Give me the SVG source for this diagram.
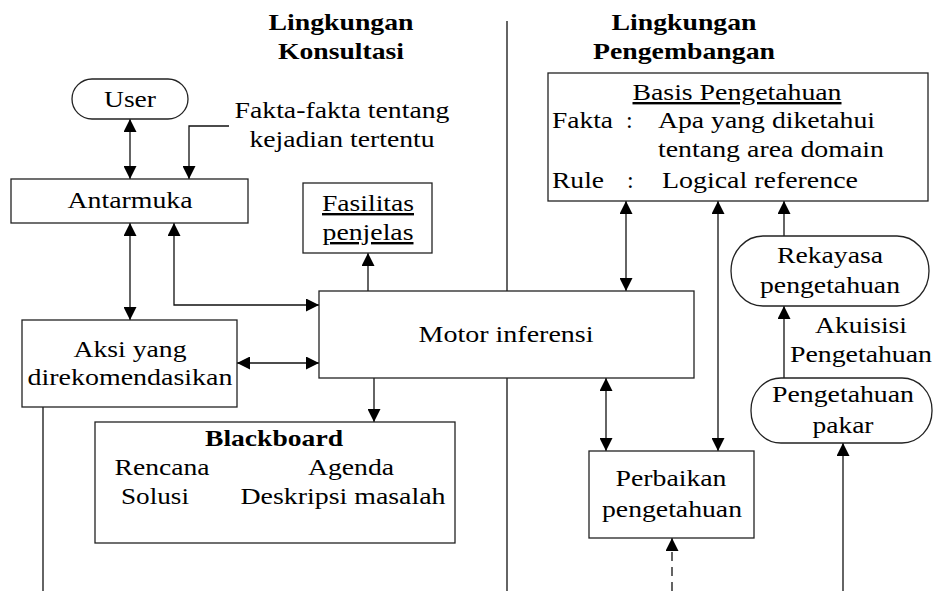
<svg xmlns="http://www.w3.org/2000/svg" width="935" height="591" viewBox="0 0 935 591">
<style>
text{font-family:"Liberation Serif","Times New Roman",Times,"Nimbus Roman","Noto Serif","DejaVu Serif",FreeSerif,serif;font-size:24px;fill:#000}
.b{font-weight:bold}
.m{text-anchor:middle}
.box{fill:#fff;stroke:#222;stroke-width:1.3}
.c{fill:none;stroke:#111;stroke-width:1.3}
.ar{marker-end:url(#ah)}
.da{marker-start:url(#ah);marker-end:url(#ah)}
.u{text-decoration:underline}
</style>
<defs>
<marker id="ah" markerUnits="userSpaceOnUse" markerWidth="13" markerHeight="13" refX="12" refY="6" orient="auto-start-reverse" viewBox="0 0 12 12">
<path d="M0,0 L12,6 L0,12 z" fill="#000"/>
</marker>
</defs>
<rect width="935" height="591" fill="#fff"/>
<g id="titles">
<text class="b m" x="341" y="30" textLength="145" lengthAdjust="spacingAndGlyphs">Lingkungan</text>
<text class="b m" x="341" y="59" textLength="126" lengthAdjust="spacingAndGlyphs">Konsultasi</text>
<text class="b m" x="684" y="30" textLength="145" lengthAdjust="spacingAndGlyphs">Lingkungan</text>
<text class="b m" x="684" y="59" textLength="182" lengthAdjust="spacingAndGlyphs">Pengembangan</text>
</g>
<line id="divider" x1="507" y1="21" x2="507" y2="591" class="c"/>
<g id="connectors">
<line class="c da" x1="130" y1="119" x2="130" y2="179"/>
<polyline class="c ar" points="229,126 189,126 189,179"/>
<line class="c da" x1="130" y1="223" x2="130" y2="320"/>
<polyline class="c da" points="174,223 174,305 319,305"/>
<line class="c da" x1="237" y1="363" x2="319" y2="363"/>
<line class="c ar" x1="368" y1="291" x2="368" y2="253"/>
<line class="c ar" x1="374" y1="378" x2="374" y2="422"/>
<line class="c da" x1="626" y1="201" x2="626" y2="291"/>
<line class="c da" x1="718" y1="201" x2="718" y2="451"/>
<line class="c da" x1="606" y1="378" x2="606" y2="451"/>
<line class="c ar" x1="784" y1="236" x2="784" y2="201"/>
<line class="c ar" x1="784" y1="378" x2="784" y2="306"/>
<line class="c ar" x1="843" y1="591" x2="843" y2="443"/>
<line class="c ar" x1="672" y1="591" x2="672" y2="538" stroke-dasharray="9,6"/>
<line class="c" x1="43" y1="407" x2="43" y2="591"/>
</g>
<g id="fakta-label">
<text class="m" x="342" y="118" textLength="215" lengthAdjust="spacingAndGlyphs">Fakta-fakta tentang</text>
<text class="m" x="342" y="147" textLength="185" lengthAdjust="spacingAndGlyphs">kejadian tertentu</text>
</g>
<g id="user">
<rect class="box" x="72" y="79" width="116" height="40" rx="20" ry="20"/>
<text class="m" x="130" y="107" textLength="52" lengthAdjust="spacingAndGlyphs">User</text>
</g>
<g id="antarmuka">
<rect class="box" x="11" y="179" width="237" height="44"/>
<text class="m" x="130" y="208" textLength="125" lengthAdjust="spacingAndGlyphs">Antarmuka</text>
</g>
<g id="fasilitas">
<rect class="box" x="303" y="183" width="129" height="70"/>
<text class="m u" x="368" y="211" textLength="92" lengthAdjust="spacingAndGlyphs">Fasilitas</text>
<text class="m u" x="368" y="240" textLength="91" lengthAdjust="spacingAndGlyphs">penjelas</text>
</g>
<g id="motor">
<rect class="box" x="319" y="291" width="375" height="87"/>
<text class="m" x="506" y="342" textLength="175" lengthAdjust="spacingAndGlyphs">Motor inferensi</text>
</g>
<g id="aksi">
<rect class="box" x="22" y="320" width="215" height="87"/>
<text class="m" x="130" y="357" textLength="113" lengthAdjust="spacingAndGlyphs">Aksi yang</text>
<text class="m" x="130" y="385" textLength="205" lengthAdjust="spacingAndGlyphs">direkomendasikan</text>
</g>
<g id="blackboard">
<rect class="box" x="95" y="422" width="360" height="121"/>
<text class="b m" x="274" y="446" textLength="138" lengthAdjust="spacingAndGlyphs">Blackboard</text>
<text class="m" x="162" y="475" textLength="95" lengthAdjust="spacingAndGlyphs">Rencana</text>
<text class="m" x="351" y="475" textLength="86" lengthAdjust="spacingAndGlyphs">Agenda</text>
<text class="m" x="155" y="504" textLength="68" lengthAdjust="spacingAndGlyphs">Solusi</text>
<text class="m" x="343" y="504" textLength="205" lengthAdjust="spacingAndGlyphs">Deskripsi masalah</text>
</g>
<g id="basis">
<rect class="box" x="548" y="73" width="380" height="128"/>
<text class="m u" x="737" y="100" textLength="209" lengthAdjust="spacingAndGlyphs">Basis Pengetahuan</text>
<text x="552" y="128" textLength="61" lengthAdjust="spacingAndGlyphs">Fakta</text>
<text x="626" y="128">:</text>
<text x="658" y="128" textLength="217" lengthAdjust="spacingAndGlyphs">Apa yang diketahui</text>
<text x="658" y="157" textLength="226" lengthAdjust="spacingAndGlyphs">tentang area domain</text>
<text x="552" y="188" textLength="52" lengthAdjust="spacingAndGlyphs">Rule</text>
<text x="627" y="188">:</text>
<text x="662" y="188" textLength="196" lengthAdjust="spacingAndGlyphs">Logical reference</text>
</g>
<g id="rekayasa">
<rect class="box" x="731" y="236" width="198" height="70" rx="32" ry="35"/>
<text class="m" x="830" y="263" textLength="106" lengthAdjust="spacingAndGlyphs">Rekayasa</text>
<text class="m" x="830" y="293" textLength="140" lengthAdjust="spacingAndGlyphs">pengetahuan</text>
</g>
<g id="akuisisi-label">
<text class="m" x="861" y="333" textLength="92" lengthAdjust="spacingAndGlyphs">Akuisisi</text>
<text class="m" x="861" y="362" textLength="142" lengthAdjust="spacingAndGlyphs">Pengetahuan</text>
</g>
<g id="pakar">
<rect class="box" x="751" y="378" width="181" height="65" rx="30" ry="32"/>
<text class="m" x="843" y="402" textLength="142" lengthAdjust="spacingAndGlyphs">Pengetahuan</text>
<text class="m" x="843" y="433" textLength="61" lengthAdjust="spacingAndGlyphs">pakar</text>
</g>
<g id="perbaikan">
<rect class="box" x="589" y="451" width="165" height="87"/>
<text class="m" x="671" y="486" textLength="111" lengthAdjust="spacingAndGlyphs">Perbaikan</text>
<text class="m" x="672" y="517" textLength="140" lengthAdjust="spacingAndGlyphs">pengetahuan</text>
</g>
</svg>
